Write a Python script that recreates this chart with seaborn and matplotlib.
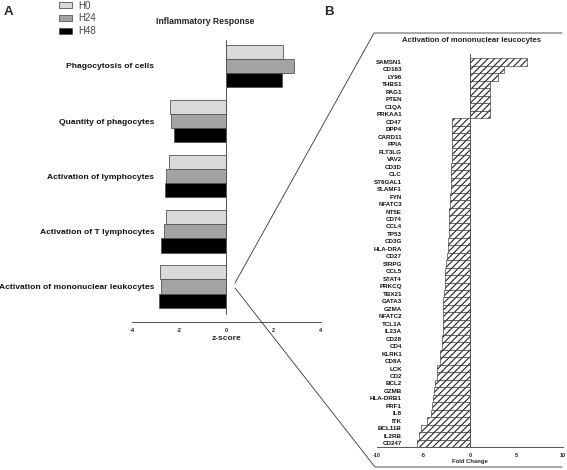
import numpy as np
import pandas as pd
import matplotlib
matplotlib.use("Agg")
import matplotlib.pyplot as plt
from matplotlib.lines import Line2D
import seaborn as sns

# panel A data: z-scores per time point
functions = ["Phagocytosis of cells", "Quantity of phagocytes", "Activation of lymphocytes",
             "Activation of T lymphocytes", "Activation of mononuclear leukocytes"]
h0 = [2.40, -2.39, -2.44, -2.56, -2.81]
h24 = [2.87, -2.36, -2.57, -2.63, -2.78]
h48 = [2.36, -2.23, -2.61, -2.77, -2.85]
timepoints = ["H0", "H24", "H48"]
zticks = [-4, -2, 0, 2, 4]

# panel B data: fold change of genes
genes = ["SAMSN1", "CD163", "LY96", "THBS1", "PAG1", "PTEN", "C1QA", "PRKAA1", "CD47", "DPP4",
         "CARD11", "PPIA", "FLT3LG", "VAV2", "CD3D", "CLC", "ST6GAL1", "SLAMF1", "FYN", "NFATC3",
         "NT5E", "CD74", "CCL4", "TP53", "CD3G", "HLA-DRA", "CD27", "SIRPG", "CCL5", "STAT4",
         "PRKCQ", "TBX21", "GATA3", "GZMA", "NFATC2", "TCL1A", "IL23A", "CD28", "CD4", "KLRK1",
         "CD8A", "LCK", "CD2", "BCL2", "GZMB", "HLA-DRB1", "PRF1", "IL8", "ITK", "BCL11B",
         "IL2RB", "CD247"]
fold_change = [6.1, 3.7, 3.06, 2.19, 2.19, 2.19, 2.19, 2.19, -1.98, -1.98,
               -1.98, -1.98, -1.98, -1.98, -2.0, -2.05, -2.05, -2.05, -2.12, -2.12,
               -2.23, -2.23, -2.3, -2.3, -2.41, -2.41, -2.48, -2.59, -2.66, -2.73,
               -2.73, -2.8, -2.88, -2.88, -2.91, -2.91, -2.95, -3.0, -3.05, -3.2,
               -3.24, -3.5, -3.56, -3.74, -3.85, -4.03, -4.1, -4.17, -4.64, -5.25,
               -5.47, -5.65]
fcticks = [-10, -5, 0, 5, 10]

W, H = 567, 470
sns.set_style("white")
plt.rcParams["font.family"] = ["Liberation Sans", "DejaVu Sans"]
plt.rcParams["hatch.linewidth"] = 0.8

fig = plt.figure(figsize=(W / 100, H / 100), dpi=100)

def box(l, t, r, b):
    return [l / W, 1 - b / H, (r - l) / W, (b - t) / H]

# ---------- panel A ----------
df = pd.DataFrame({"function": functions * 3,
                   "z": h0 + h24 + h48,
                   "time": [t for t in timepoints for _ in functions]})
axA = fig.add_axes(box(132, 40, 321, 314))
sns.barplot(data=df, x="z", y="function", hue="time", orient="h", ax=axA,
            palette=["#d9d9d9", "#a3a3a3", "#000000"], width=0.77,
            edgecolor="#555555", linewidth=0.6)
handles, labels = axA.get_legend_handles_labels()
axA.get_legend().remove()
# spine positions first: moving a spine resets its ticks
axA.spines["top"].set_visible(False)
axA.spines["right"].set_visible(False)
axA.spines["left"].set_position(("data", 0))
axA.spines["bottom"].set_position(("outward", 5.8))
for s in ["left", "bottom"]:
    axA.spines[s].set_color("#555555")
    axA.spines[s].set_linewidth(0.7)
axA.set_xlim(-4, 4)
axA.set_ylim(4.5, -0.47)
axA.tick_params(axis="x", length=3, width=0.6, color="#555555", pad=1, labelsize=4)
axA.tick_params(axis="y", length=0, pad=52, labelsize=6.1)
axA.set_xticks(zticks)
axA.set_xticklabels([str(t) for t in zticks], fontsize=4, fontweight="bold")
axA.set_yticks(range(len(functions)))
axA.set_yticklabels(functions, fontsize=6.1, fontweight="bold", color="#111111")
axA.set_xlabel("z-score", fontsize=6, fontweight="bold", labelpad=1.5)
axA.set_ylabel("")

fig.legend(handles, labels, loc="upper left", bbox_to_anchor=(54 / W, 1.009),
           frameon=False, fontsize=7, handlelength=1.4, handleheight=0.55,
           labelspacing=0.28, handletextpad=0.6, borderpad=0, labelcolor="#444444")

fig.text(205 / W, 1 - 21 / H, "Inflammatory Response", ha="center", va="center",
         fontsize=6.2, fontweight="bold", color="#222222")
fig.text(4 / W, 1 - 12 / H, "A", ha="left", va="center", fontsize=9.5, fontweight="bold")
fig.text(324 / W, 1 - 12 / H, "B", ha="left", va="center", fontsize=9.5, fontweight="bold")

# ---------- panel B ----------
dfb = pd.DataFrame({"gene": genes, "fc": fold_change})
axB = fig.add_axes(box(377, 54, 563, 447))
sns.barplot(data=dfb, x="fc", y="gene", orient="h", ax=axB, color="white",
            width=1.0, edgecolor="#222222", linewidth=0.4, hatch="/////")
axB.spines["top"].set_visible(False)
axB.spines["right"].set_visible(False)
axB.spines["left"].set_position(("data", 0))
for s in ["left", "bottom"]:
    axB.spines[s].set_color("#555555")
    axB.spines[s].set_linewidth(0.7)
axB.set_xlim(-10, 10)
axB.set_ylim(51.5, -1.07)
axB.tick_params(axis="x", length=3, width=0.6, color="#555555", pad=1, labelsize=4)
axB.tick_params(axis="y", length=0, pad=49, labelsize=4.5)
axB.set_xticks(fcticks)
axB.set_xticklabels([str(t) for t in fcticks], fontsize=4, fontweight="bold")
axB.set_yticks(range(len(genes)))
axB.set_yticklabels(genes, fontsize=4.5, fontweight="bold", color="#111111")
axB.set_xlabel("Fold Change", fontsize=4.2, fontweight="bold", labelpad=1)
axB.set_ylabel("")

fig.text(471 / W, 1 - 40 / H, "Activation of mononuclear leucocytes", ha="center",
         va="center", fontsize=5.6, fontweight="bold", color="#222222")

# zoom bracket linking the two panels
def px(x, y):
    return (x / W, 1 - y / H)

for pts in ([(235, 283), (374, 33), (562, 33)], [(235, 288), (375, 467), (562, 467)]):
    xs, ys = zip(*[px(*p) for p in pts])
    fig.add_artist(Line2D(xs, ys, transform=fig.transFigure, color="#333333", lw=0.6))

fig.savefig("out.png", dpi=100)
